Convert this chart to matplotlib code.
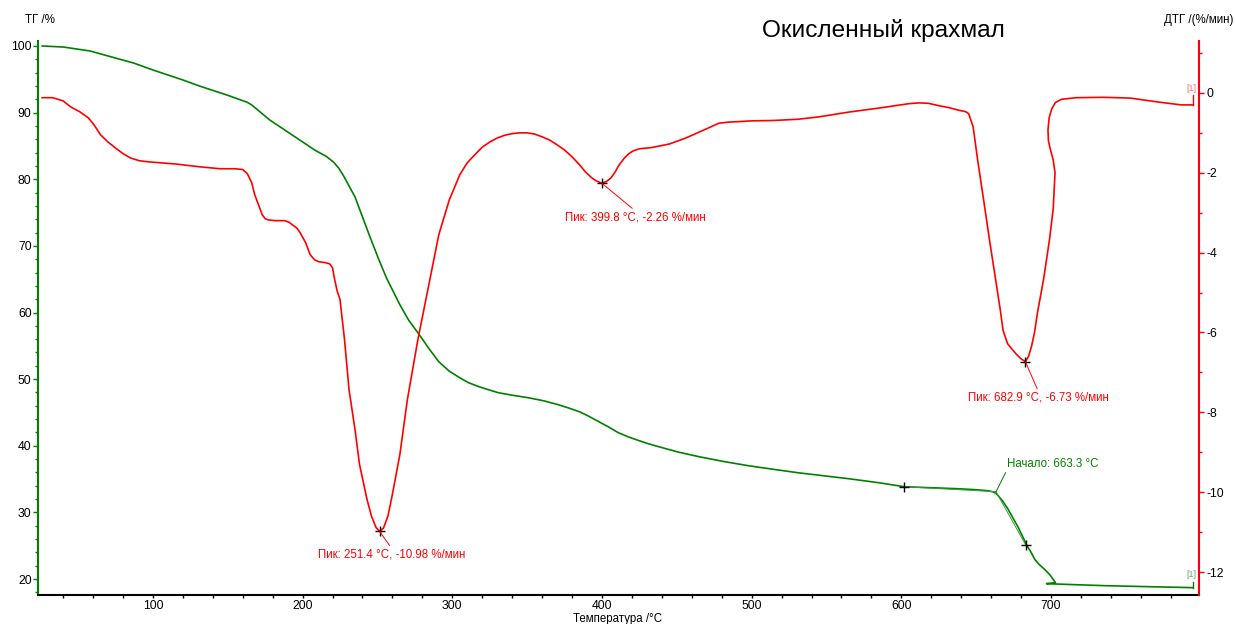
import matplotlib
matplotlib.use("Agg")
import matplotlib.pyplot as plt
from matplotlib.ticker import MultipleLocator

plt.rcParams["font.family"] = ["Liberation Sans", "DejaVu Sans"]
plt.rcParams["axes.unicode_minus"] = False

# TG curve (left axis, %)
tg_temp = [26, 40, 58, 70, 87, 100, 120, 131, 150, 163, 166, 170, 178, 191, 208,
           216, 221, 224, 227, 231, 235, 239, 245, 251, 256, 260, 265, 271, 278,
           285, 291, 298, 305, 311, 318, 325, 331, 341, 351, 361, 371, 378, 385,
           391, 398, 405, 411, 418, 425, 431, 438, 451, 465, 481, 498, 515, 531,
           548, 565, 585, 602, 620, 638, 650, 658, 661, 663, 665, 668, 671, 675,
           678, 681, 684, 687, 689, 692, 696, 699, 701, 703, 697, 716, 736, 765, 795]
tg_mass = [100.0, 99.85, 99.25, 98.5, 97.45, 96.4, 94.9, 94.0, 92.6, 91.55, 91.15,
           90.4, 88.9, 86.95, 84.4, 83.4, 82.5, 81.7, 80.65, 79.0, 77.35, 74.95,
           71.35, 67.9, 65.2, 63.4, 61.15, 58.8, 56.65, 54.4, 52.6, 51.2, 50.2,
           49.45, 48.85, 48.35, 47.95, 47.55, 47.2, 46.75, 46.15, 45.65, 45.1,
           44.45, 43.6, 42.75, 41.95, 41.3, 40.75, 40.3, 39.85, 39.05, 38.35, 37.65,
           37.0, 36.45, 35.95, 35.5, 35.05, 34.45, 33.85, 33.7, 33.55, 33.4, 33.25,
           33.1, 32.9, 32.45, 31.6, 30.6, 29.0, 27.8, 26.4, 25.0, 23.9, 23.0, 22.2,
           21.4, 20.7, 20.1, 19.45, 19.3, 19.15, 19.0, 18.85, 18.7]

# DTG curve (right axis, %/min)
dtg_temp = [26, 33, 40, 45, 51, 57, 61, 65, 70, 75, 80, 85, 91, 98, 115, 131, 145,
            155, 160, 163, 166, 168, 171, 173, 175, 177, 182, 188, 191, 193, 196,
            198, 202, 205, 208, 211, 215, 218, 220, 221, 223, 225, 228, 231, 235,
            238, 243, 246, 249, 251.4, 254, 257, 260, 265, 270, 277, 285, 291, 298,
            305, 310, 315, 320, 325, 330, 335, 340, 345, 350, 355, 360, 365, 370,
            375, 380, 385, 389, 393, 396, 399.8, 403, 406, 409, 411, 415, 418, 421,
            425, 433, 445, 456, 465, 471, 478, 485, 491, 500, 515, 531, 545, 565, 585,
            605, 612, 618, 625, 632, 638, 643, 645, 648, 651, 655, 659, 663, 666, 668,
            671, 674, 677, 680, 682.9, 685, 687, 689, 691, 695, 699, 701.5, 702.7,
            701.5, 699.5, 698.3, 698, 698.8, 700.5, 703, 707, 717, 735, 753, 772,
            787, 795]
dtg_rate = [-0.12, -0.12, -0.2, -0.35, -0.47, -0.63, -0.82, -1.05, -1.23, -1.38,
            -1.52, -1.63, -1.7, -1.73, -1.78, -1.85, -1.9, -1.9, -1.92, -2.02, -2.25,
            -2.55, -2.85, -3.05, -3.15, -3.18, -3.2, -3.2, -3.24, -3.3, -3.38, -3.48,
            -3.75, -4.05, -4.18, -4.23, -4.25, -4.28, -4.38, -4.6, -4.95, -5.18, -6.18,
            -7.43, -8.43, -9.3, -10.18, -10.6, -10.88, -10.98, -10.9, -10.6, -10.05,
            -9.05, -7.68, -6.18, -4.68, -3.55, -2.68, -2.05, -1.75, -1.55, -1.36,
            -1.23, -1.13, -1.06, -1.02, -1.0, -1.0, -1.03, -1.1, -1.18, -1.3, -1.43,
            -1.6, -1.8, -1.98, -2.12, -2.2, -2.26, -2.22, -2.13, -1.97, -1.83, -1.63,
            -1.52, -1.45, -1.4, -1.37, -1.28, -1.13, -0.98, -0.88, -0.76, -0.73,
            -0.72, -0.7, -0.69, -0.66, -0.6, -0.48, -0.38, -0.27, -0.25, -0.26, -0.32,
            -0.37, -0.43, -0.47, -0.52, -0.85, -1.68, -2.68, -3.7, -4.68, -5.4, -5.95,
            -6.28, -6.42, -6.55, -6.66, -6.73, -6.6, -6.35, -6.0, -5.5, -4.68, -3.68,
            -2.9, -2.0, -1.68, -1.4, -1.2, -0.93, -0.62, -0.4, -0.24, -0.16, -0.12,
            -0.11, -0.13, -0.23, -0.3, -0.3]

dtg_peaks = [(251.4, -10.98), (399.8, -2.26), (682.9, -6.73)]
peak_offsets = [(12, -17), (34, -28), (13, -30)]  # pixels, to top-centre of label

onset_temp = 663.3
onset_mass = 33.1
tg_base_pt = (602, 33.85)      # baseline tangent point
tg_infl_pt = (683, 25.15)      # inflection tangent point

GREEN = "#008000"
RED = "#ff0000"

fig = plt.figure(figsize=(12.36, 6.24), dpi=100)
ax = fig.add_axes([38 / 1236, 1 - 595 / 624, (1199 - 38) / 1236, (595 - 41) / 624])
ax2 = ax.twinx()

ax.plot(tg_temp, tg_mass, color=GREEN, lw=1.2)
ax2.plot(dtg_temp, dtg_rate, color=RED, lw=1.2)

# end-of-curve markers
ax.plot([tg_temp[-1], tg_temp[-1]], [tg_mass[-1], tg_mass[-1] + 0.9], color=GREEN, lw=1.0)
ax2.plot([dtg_temp[-1], dtg_temp[-1]], [dtg_rate[-1], dtg_rate[-1] + 0.25], color=RED, lw=1.0)
ax.annotate("[1]", (tg_temp[-1], tg_mass[-1]), xytext=(-2, 13), textcoords="offset pixels",
            ha="center", va="center", fontsize=6.5, color="#5fb35f")
ax2.annotate("[1]", (dtg_temp[-1], dtg_rate[-1]), xytext=(-2, 16), textcoords="offset pixels",
             ha="center", va="center", fontsize=6.5, color="#ff7070")

# onset construction
ax.plot([tg_base_pt[0], onset_temp], [tg_base_pt[1], onset_mass], color="#3a9a3a", lw=0.7)
ax.plot([onset_temp, tg_infl_pt[0]], [onset_mass, tg_infl_pt[1]], color="#3a9a3a", lw=0.7)
ax.plot([tg_base_pt[0], tg_infl_pt[0]], [tg_base_pt[1], tg_infl_pt[1]], ls="none",
        marker="+", ms=7, mew=1.0, color="black")
ax.annotate(f"Начало: {onset_temp:.1f} °C", (onset_temp, onset_mass), xytext=(11, 22),
            textcoords="offset pixels", ha="left", va="bottom", fontsize=8.3, color=GREEN,
            arrowprops=dict(arrowstyle="-", color=GREEN, lw=0.7, relpos=(0, 0),
                            shrinkA=0, shrinkB=0))

# DTG peaks
for (t, r), off in zip(dtg_peaks, peak_offsets):
    ax2.plot(t, r, marker="+", ms=7, mew=1.0, color="black")
    ax2.annotate(f"Пик: {t:.1f} °C, {r:.2f} %/мин", (t, r), xytext=off,
                 textcoords="offset pixels", ha="center", va="top", fontsize=8.3, color=RED,
                 arrowprops=dict(arrowstyle="-", color=RED, lw=0.7, relpos=(0.5, 1),
                                 shrinkA=0, shrinkB=0))

ax.set_xlim(23.2, 798.9)
ax.set_ylim(17.6, 100.75)
ax2.set_ylim(-12.575, 1.3)

ax.xaxis.set_major_locator(MultipleLocator(100))
ax.xaxis.set_minor_locator(MultipleLocator(20))
ax.yaxis.set_major_locator(MultipleLocator(10))
ax.yaxis.set_minor_locator(MultipleLocator(2))
ax2.yaxis.set_major_locator(MultipleLocator(2))
ax2.yaxis.set_minor_locator(MultipleLocator(1))

for a in (ax, ax2):
    for s in a.spines.values():
        s.set_visible(False)
ax.spines["left"].set_visible(True)
ax.spines["left"].set_color(GREEN)
ax.spines["left"].set_linewidth(1.5)
ax.spines["bottom"].set_visible(True)
ax.spines["bottom"].set_linewidth(1.5)
ax2.spines["right"].set_visible(True)
ax2.spines["right"].set_color(RED)
ax2.spines["right"].set_linewidth(1.5)

ax.tick_params(axis="x", which="both", direction="out", length=2.2, width=1, labelsize=8.8, pad=1.5)
ax.tick_params(axis="y", which="both", colors=GREEN, labelcolor="black", labelsize=8.8, pad=1)
ax.tick_params(axis="y", which="major", length=3.6, width=1)
ax.tick_params(axis="y", which="minor", length=2.2, width=1)
ax2.tick_params(axis="y", which="both", colors=RED, labelcolor="black", labelsize=8.8, pad=2)
ax2.tick_params(axis="y", which="major", length=3.6, width=1)
ax2.tick_params(axis="y", which="minor", length=2.2, width=1)

fig.text(25 / 1236, 1 - 20 / 624, "ТГ /%", fontsize=8.3, ha="left", va="center")
fig.text(1233 / 1236, 1 - 20 / 624, "ДТГ /(%/мин)", fontsize=8.3, ha="right", va="center")
fig.text(618 / 1236, 1 - 619 / 624, "Температура /°C", fontsize=8.3, ha="center", va="center")
fig.text(883 / 1236, 1 - 30 / 624, "Окисленный крахмал", fontsize=17.6, ha="center", va="center")

fig.savefig("out.png", dpi=100)
plt.close(fig)
